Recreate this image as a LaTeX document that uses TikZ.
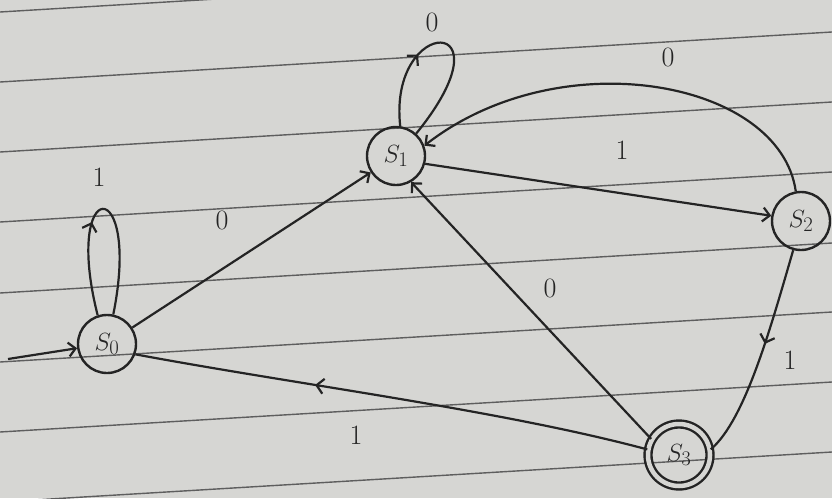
\documentclass[tikz,border=0pt]{standalone}
\usetikzlibrary{arrows.meta,decorations.markings}
\definecolor{paper}{HTML}{D6D6D3}
\definecolor{ruling}{HTML}{5E5E5E}
\definecolor{ink}{HTML}{242424}
\begin{document}
\begin{tikzpicture}[x=1pt,y=-1pt,
  state/.style={circle,draw=ink,line width=2.4pt,minimum size=58pt,inner sep=0pt,
    font=\fontsize{28}{30}\selectfont,text=ink},
  accstate/.style={state,double=paper,double distance=4.5pt,minimum size=62pt},
  edge/.style={draw=ink,line width=2.2pt,-{Straight Barb[length=7pt,width=14pt]}},
  plain/.style={draw=ink,line width=2.2pt},
  midarrow/.style={postaction={decorate},decoration={markings,
    mark=at position #1 with {\arrow[line width=2.2pt]{Straight Barb[length=7pt,width=15pt]}}}},
  lab/.style={font=\fontsize{28}{30}\selectfont,text=ink},
  rule/.style={draw=ruling,line width=1.4pt}]
\useasboundingbox (0,0) rectangle (832,498);
\fill[paper] (0,0) rectangle (832,498);
% ruled paper
\foreach \y in {12,82,152,222,293,362,432,502}
  \draw[rule] (0,\y) -- (832,\y-50);
% states
\node[state] (S0) at (107,344) {$S_0$};
\node[state] (S1) at (396,156) {$S_1$};
\node[state] (S2) at (801,221) {$S_2$};
\node[accstate] (S3) at (679,455) {$S_3$};
\coordinate (start) at (8,359);
% edges
\draw[edge] (start) -- (S0.188);
\draw[plain,midarrow=0.42] (S0.108) .. controls (62,175) and (142,172) .. (S0.78);
\draw[edge] (S0) -- (S1);
\draw[plain,midarrow=0.36] (S1.82) .. controls (388,15) and (515,12) .. (S1.48);
\draw[edge] (S2.100) .. controls (780,80) and (560,40) .. (S1.20);
\draw[edge] (S1.-15) -- (S2.170);
\draw[edge] (S3.150) -- (S1.-60);
\draw[plain,midarrow=0.45] (S2.255) .. controls (770,330) and (745,420) .. (S3.10);
\draw[plain,midarrow=0.65] (S3.170) .. controls (500,410) and (300,385) .. (S0.-20);
% labels
\node[lab] (l01) at (99,177) {1};
\node[lab] (l02) at (222,220) {0};
\node[lab] (l03) at (432,22) {0};
\node[lab] (l04) at (668,57) {0};
\node[lab] (l05) at (622,150) {1};
\node[lab] (l06) at (550,288) {0};
\node[lab] (l07) at (790,360) {1};
\node[lab] (l08) at (356,435) {1};
\end{tikzpicture}
\end{document}
